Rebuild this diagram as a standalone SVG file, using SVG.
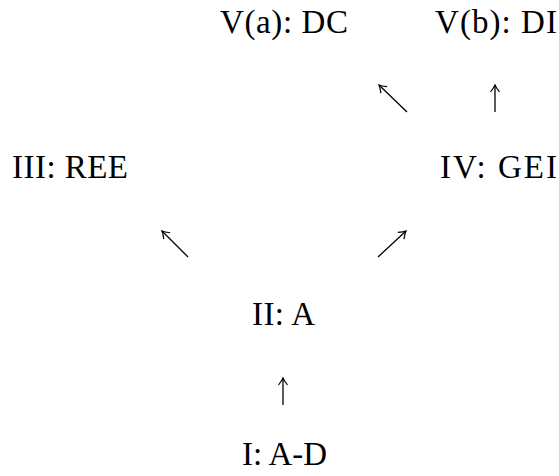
<svg xmlns="http://www.w3.org/2000/svg" width="559" height="476" viewBox="0 0 559 476">
<style>
text{font-family:"Liberation Serif","DejaVu Serif",serif;font-size:33px;fill:#000}
.c{stroke:#000;stroke-width:1.3;fill:none;marker-end:url(#ah)}
</style>
<defs>
<marker id="ah" markerUnits="userSpaceOnUse" markerWidth="14" markerHeight="14" refX="0" refY="0" viewBox="-8 -7 10 14" orient="auto" overflow="visible">
<path d="M-7,-4.5 Q-2.5,-1 0,0 Q-2.5,1 -7,4.5" fill="none" stroke="#000" stroke-width="1.2"/>
</marker>
</defs>
<rect width="559" height="476" fill="#fff"/>
<g id="node-va"><text x="220" y="33" textLength="128" lengthAdjust="spacing">V(a): DC</text></g>
<g id="node-vb"><text x="435" y="33" textLength="122" lengthAdjust="spacing">V(b): DI</text></g>
<g id="node-iii"><text x="12" y="178" textLength="116" lengthAdjust="spacing">III: REE</text></g>
<g id="node-iv"><text x="440" y="178" textLength="117" lengthAdjust="spacing">IV: GEI</text></g>
<g id="node-ii"><text x="252" y="325" textLength="63" lengthAdjust="spacing">II: A</text></g>
<g id="node-i"><text x="242" y="465" textLength="85" lengthAdjust="spacing">I: A-D</text></g>
<g id="connectors">
<path class="c" d="M283,405 L283,378"/>
<path class="c" d="M188,257 L162,231"/>
<path class="c" d="M378,257 L406,231"/>
<path class="c" d="M407,112 L379,85"/>
<path class="c" d="M495,112 L495,85"/>
</g>
</svg>
